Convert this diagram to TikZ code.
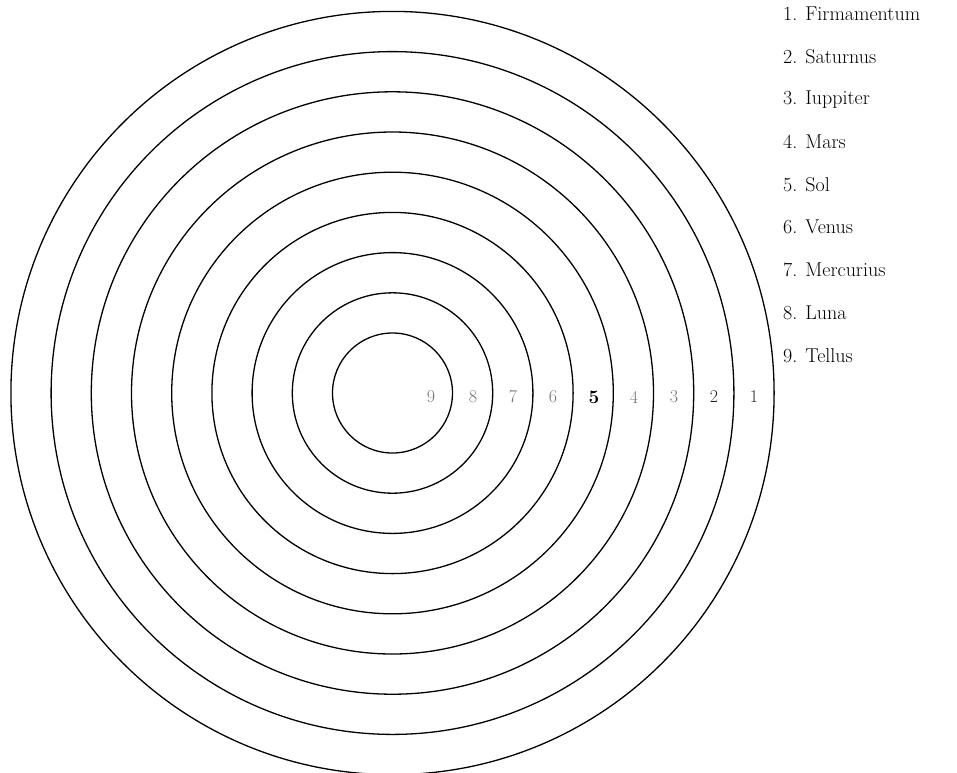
\documentclass[tikz,border=0pt]{standalone}
\begin{document}
\begin{tikzpicture}[x=1pt,y=-1pt,
  orb/.style={line width=1.3pt},
  numlight/.style={text=black!55,font=\fontsize{18}{18}\selectfont,inner sep=0pt},
  numdark/.style={text=black!85,font=\fontsize{18}{18}\selectfont,inner sep=0pt},
  numbold/.style={text=black,font=\fontsize{19}{19}\selectfont\bfseries,inner sep=0pt},
  listlab/.style={anchor=west,font=\fontsize{20}{20}\selectfont,inner sep=0pt}]
\useasboundingbox (0,0) rectangle (957,772);
\coordinate (c) at (392.5,393);
\foreach \k in {0,...,8}{
  \draw[orb] (c) circle ({60+40.2*\k});
}
\node[numlight] (n9) at (431,397) {9};
\node[numlight] (n8) at (473,397) {8};
\node[numlight] (n7) at (513,397) {7};
\node[numlight] (n6) at (553,397) {6};
\node[numbold]  (n5) at (594,397) {5};
\node[numlight] (n4) at (634,397) {4};
\node[numlight] (n3) at (674,397) {3};
\node[numdark]  (n2) at (714,397) {2};
\node[numdark]  (n1) at (754,397) {1};
\node[listlab] (l1) at (783,14) {1. Firmamentum};
\node[listlab] (l2) at (783,57) {2. Saturnus};
\node[listlab] (l3) at (783,100) {3. Iuppiter};
\node[listlab] (l4) at (783,142) {4. Mars};
\node[listlab] (l5) at (783,185) {5. Sol};
\node[listlab] (l6) at (783,227) {6. Venus};
\node[listlab] (l7) at (783,270) {7. Mercurius};
\node[listlab] (l8) at (783,313) {8. Luna};
\node[listlab] (l9) at (783,356) {9. Tellus};
\end{tikzpicture}
\end{document}
